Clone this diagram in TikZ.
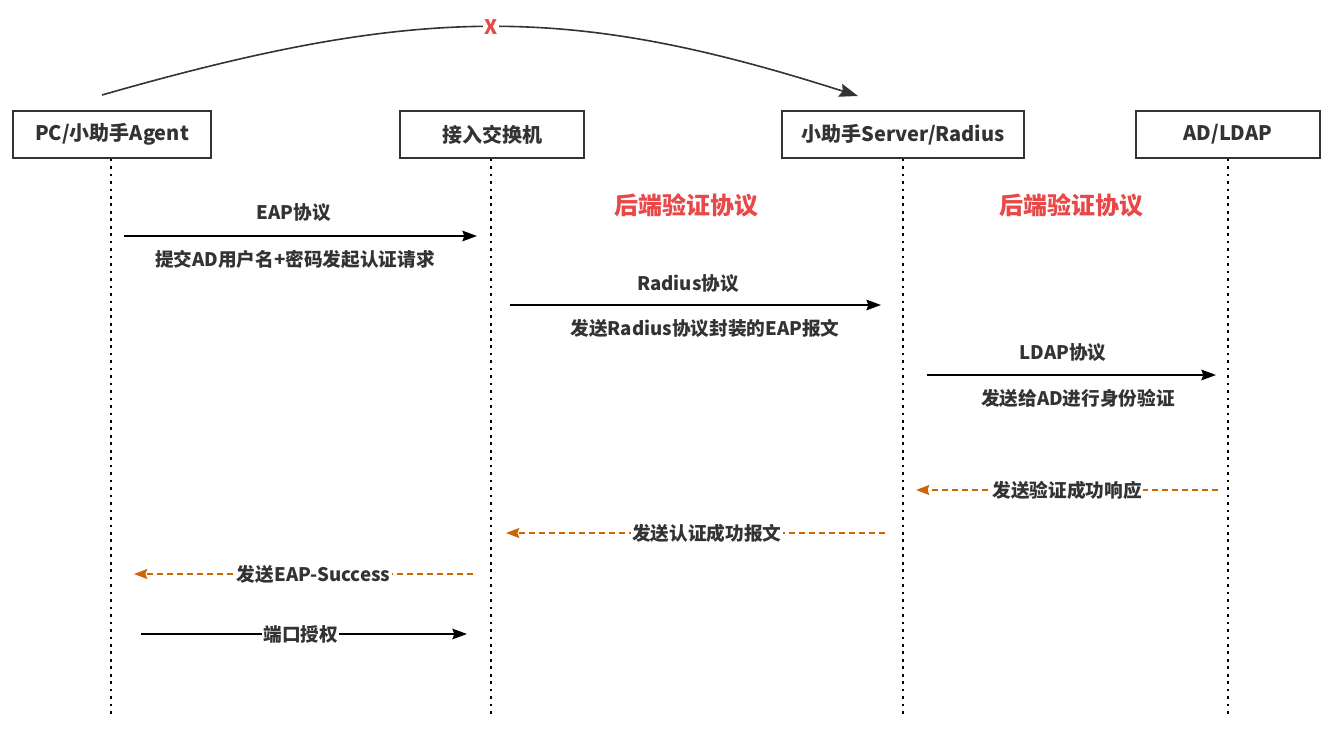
\documentclass[tikz,border=0pt]{standalone}
\usepackage{fontspec}
\setmainfont{Noto Sans CJK SC}
\usetikzlibrary{arrows.meta}
\definecolor{txtgray}{RGB}{51,51,51}
\definecolor{alertred}{RGB}{232,72,72}
\definecolor{replyorange}{RGB}{204,102,0}
\tikzset{every picture/.style={line width=0.75pt}}

\begin{document}
\begin{tikzpicture}[x=0.75pt,y=0.75pt,yscale=-1,xscale=1,
	party/.style={draw=txtgray, line width=1pt, minimum height=35.25pt, text=txtgray, font=\fontsize{15}{18}\selectfont\bfseries},
	life/.style={black, line width=2pt, dash pattern=on 2pt off 3.6pt},
	msg/.style={black, line width=1.1pt, -{Stealth[length=11pt,width=8pt,inset=1.5pt]}},
	reply/.style={replyorange, line width=1.1pt, dash pattern=on 4.5pt off 3pt, -{Stealth[length=10pt,width=7.5pt,inset=1.5pt]}},
	lbl/.style={text=txtgray, font=\fontsize{14}{17}\selectfont\bfseries},
	onlbl/.style={lbl, fill=white, inner xsep=1pt},
	backend/.style={text=alertred, font=\fontsize{18}{21}\selectfont\bfseries}]
	\useasboundingbox (0,0) rectangle (1342,745);
	
	% participants
	\node[party, minimum width=148.5pt] (agent) at (112,134.5) {PC/小助手Agent};
	\node[party, minimum width=138pt] (switch) at (492,134.5) {接入交换机};
	\node[party, minimum width=181.5pt] (server) at (903,134.5) {小助手Server/Radius};
	\node[party, minimum width=138pt] (ldap) at (1228,134.5) {AD/LDAP};
	
	% lifelines
	\coordinate (agentend) at (111,716);
	\coordinate (switchend) at (491,716);
	\coordinate (serverend) at (903,716);
	\coordinate (ldapend) at (1228,716);
	\draw[life] (agent.south -| agentend) -- (agentend);
	\draw[life] (switch.south -| switchend) -- (switchend);
	\draw[life] (server.south -| serverend) -- (serverend);
	\draw[life] (ldap.south -| ldapend) -- (ldapend);
	
	% direct path, not allowed
	\coordinate (bypassS) at (102,95);
	\coordinate (bypassE) at (858,96);
	\draw[line width=1.2pt, txtgray, -{Stealth[length=14pt,width=10pt,inset=2pt]}] (bypassS) .. controls (420,4) and (570,4) .. (bypassE)
		node[pos=0.5, fill=white, text=alertred, inner sep=1pt, font=\fontsize{15}{18}\selectfont\bfseries] (cross) {X};
	
	% backend labels
	\node[backend] (backend1) at (686,205) {后端验证协议};
	\node[backend] (backend2) at (1071,205) {后端验证协议};
	
	% EAP
	\coordinate (eapS) at (124,236);
	\coordinate (eapE) at (477,236);
	\draw[msg] (eapS) -- (eapE);
	\node[lbl] (eap) at (294,213) {EAP协议};
	\node[lbl] (eapinfo) at (295,259) {提交AD用户名+密码发起认证请求};
	
	% Radius
	\coordinate (radS) at (510,305);
	\coordinate (radE) at (881,305);
	\draw[msg] (radS) -- (radE);
	\node[lbl] (rad) at (688,284) {Radius协议};
	\node[lbl] (radinfo) at (705,328) {发送Radius协议封装的EAP报文};
	
	% LDAP
	\coordinate (ldapS) at (927,375);
	\coordinate (ldapE) at (1216,375);
	\draw[msg] (ldapS) -- (ldapE);
	\node[lbl] (ldp) at (1063,353) {LDAP协议};
	\node[lbl] (ldpinfo) at (1078,398) {发送给AD进行身份验证};
	
	% replies
	\coordinate (ansS) at (1218,490);
	\coordinate (ansE) at (916,490);
	\draw[reply] (ansS) -- (ansE) node[onlbl, pos=0.5] (ans) {发送验证成功响应};
	
	\coordinate (okS) at (885,533);
	\coordinate (okE) at (506,533);
	\draw[reply] (okS) -- (okE) node[onlbl, pos=0.47] (ok) {发送认证成功报文};
	
	\coordinate (succS) at (473,574);
	\coordinate (succE) at (134,574);
	\draw[reply] (succS) -- (succE) node[onlbl, pos=0.47] (succ) {发送EAP-Success};
	
	% port authorised
	\coordinate (portS) at (141,634);
	\coordinate (portE) at (467,634);
	\draw[msg] (portS) -- (portE) node[onlbl, pos=0.49] (port) {端口授权};
	
\end{tikzpicture}
\end{document}
